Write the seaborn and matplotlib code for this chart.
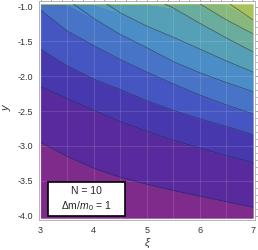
import numpy as np
import matplotlib
matplotlib.use("Agg")
import matplotlib.pyplot as plt
import seaborn as sns
from matplotlib.patches import Rectangle
from matplotlib.ticker import MultipleLocator

xi = [3.0, 3.5, 4.0, 4.5, 5.0, 5.5, 6.0, 6.5, 7.0]

# y position of each contour line at the xi values (bottom line first)
contour_1 = [-2.95, -3.15, -3.32, -3.45, -3.55, -3.64, -3.72, -3.80, -3.88]
contour_2 = [-2.15, -2.32, -2.49, -2.65, -2.79, -2.92, -3.03, -3.14, -3.24]
contour_3 = [-1.61, -1.85, -2.04, -2.19, -2.35, -2.49, -2.61, -2.72, -2.84]
contour_4 = [-1.05, -1.35, -1.56, -1.76, -1.94, -2.11, -2.27, -2.41, -2.54]
contour_5 = [-0.48, -0.90, -1.17, -1.40, -1.59, -1.79, -1.95, -2.09, -2.22]
contour_6 = [-0.05, -0.55, -0.84, -1.09, -1.28, -1.44, -1.61, -1.78, -1.94]
contour_7 = [0.40, 0.00, -0.35, -0.55, -0.84, -1.02, -1.24, -1.45, -1.65]
contour_8 = [0.80, 0.50, 0.20, -0.10, -0.41, -0.71, -0.96, -1.19, -1.39]
contour_9 = [1.20, 0.90, 0.60, 0.30, 0.00, -0.30, -0.62, -0.93, -1.19]

band_colors = ['#7f2b8c', '#582a9d', '#4838ae', '#4556c2', '#4874c8',
               '#4b8dc6', '#55a0b6', '#6aad9c', '#88b87c', '#a8c25e']

legend_lines = ['N = 10', r'$\Delta$m/$m_0$ = 1']

sns.set_style("white")
plt.rcParams['font.family'] = ['Liberation Sans', 'DejaVu Sans']
plt.rcParams['mathtext.fontset'] = 'custom'
plt.rcParams['mathtext.rm'] = 'Liberation Sans'
plt.rcParams['mathtext.it'] = 'Liberation Sans:italic'

fig = plt.figure(figsize=(2.58, 2.50), dpi=100)
ax = fig.add_axes([38.5 / 258, 30 / 250, 216.5 / 258, 219 / 250])

y_bottom, y_top = -4.033, -0.963
lines = [contour_1, contour_2, contour_3, contour_4, contour_5,
         contour_6, contour_7, contour_8, contour_9]
bounds = ([np.full(len(xi), y_bottom)] + [np.array(c) for c in lines]
          + [np.full(len(xi), y_top)])

for i, col in enumerate(band_colors):
    lo = np.clip(bounds[i], y_bottom, y_top)
    hi = np.clip(bounds[i + 1], y_bottom, y_top)
    ax.fill_between(xi, lo, hi, color=col, lw=0.3, edgecolor=col)

clip_box = Rectangle((3, y_bottom), 4, y_top - y_bottom, transform=ax.transData)

# faint grid like the original
for gx in np.arange(3.5, 7.0, 0.5):
    ln = ax.plot([gx, gx], [y_bottom, y_top], color='white', alpha=0.12, lw=0.8)[0]
for gy in np.arange(-3.5, -1.0, 0.5):
    ax.plot([3, 7], [gy, gy], color='white', alpha=0.12, lw=0.8)

# contour lines
for c in lines:
    sns.lineplot(x=xi, y=c, ax=ax, color='#1a1a3a', alpha=0.55, lw=0.6)
    ax.lines[-1].set_clip_path(clip_box)

ax.set_xlim(2.96, 7.04)
ax.set_ylim(-4.062, -0.92)

ax.xaxis.set_major_locator(MultipleLocator(1))
ax.xaxis.set_minor_locator(MultipleLocator(0.2))
ax.yaxis.set_major_locator(MultipleLocator(0.5))
ax.yaxis.set_minor_locator(MultipleLocator(0.1))
ax.yaxis.set_major_formatter(matplotlib.ticker.FormatStrFormatter('%.1f'))
ax.tick_params(which='both', direction='out', top=True, right=True,
               labeltop=False, labelright=False, color='#9a9a9a', width=0.6,
               labelcolor='#333333', labelsize=6.5, pad=1)
ax.tick_params(which='major', length=3)
ax.tick_params(which='minor', length=1.5)
for sp in ax.spines.values():
    sp.set_color('#a8a8a8')
    sp.set_linewidth(0.6)

fig.text(7 / 258, 1 - 108 / 250, 'y', rotation=90, ha='center', va='center',
         style='italic', fontsize=8, color='#333333')
fig.text(147 / 258, 1 - 243 / 250, 'ξ', ha='center', va='center',
         style='italic', fontsize=8, color='#333333')

# annotation box
ax.add_patch(Rectangle((0.044, 0.018), 0.356, 0.156, transform=ax.transAxes,
                       facecolor='white', edgecolor='black', lw=1.2, zorder=5))
ax.text(0.222, 0.132, legend_lines[0], transform=ax.transAxes, ha='center',
        va='center', fontsize=7.5, zorder=6)
ax.text(0.222, 0.062, legend_lines[1], transform=ax.transAxes, ha='center',
        va='center', fontsize=7.5, zorder=6)

fig.savefig('out.png', dpi=100)
